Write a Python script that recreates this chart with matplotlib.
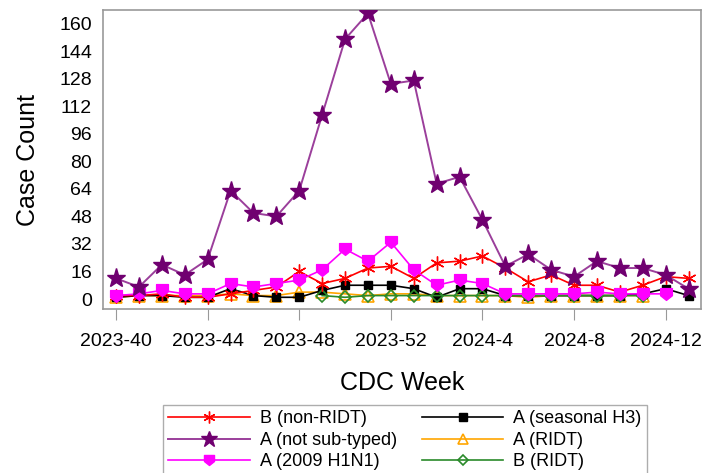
import numpy as np
import matplotlib
matplotlib.use("Agg")
import matplotlib.pyplot as plt
from matplotlib.path import Path

plt.rcParams['font.family'] = ['Liberation Sans', 'DejaVu Sans']

nan = np.nan
weeks = ["2023-40", "2023-41", "2023-42", "2023-43", "2023-44", "2023-45", "2023-46",
         "2023-47", "2023-48", "2023-49", "2023-50", "2023-51", "2023-52",
         "2024-1", "2024-2", "2024-3", "2024-4", "2024-5", "2024-6", "2024-7",
         "2024-8", "2024-9", "2024-10", "2024-11", "2024-12", "2024-13"]

b_non_ridt = [2, 2, 3, 1, 1, 3, 5, 7, 16, 9, 12, 18, 19, 12, 21, 22, 25, 18, 10, 14, 8, 8, 4, 8, 13, 12]
a_not_subtyped = [12, 7, 20, 14, 23, 63, 50, 48, 63, 107, 151, 166, 125, 127, 67, 71, 46, 19, 26, 17, 13, 22, 18, 18, 14, 6]
a_h1n1 = [2, 3, 5, 3, 3, 9, 7, 9, 11, 17, 29, 22, 33, 17, 8, 11, 9, 3, 3, 3, 3, 4, 3, 3, 3, nan]
a_h3 = [1, 2, 2, 1, 1, 6, 2, 1, 1, 5, 8, 8, 8, 6, 1, 6, 6, 2, 2, 2, 2, 2, 2, 3, 6, 2]
a_ridt = [1, 2, 2, 2, 2, 3, 2, 2, 4, 4, 3, 2, 3, 3, 2, 2, 2, 2, 1, 2, 2, 2, 2, 2, nan, nan]
b_ridt = [nan]*9 + [2, 1, 2, 2, 2, 2, 2, 2, 2, 2, 2, 2, 2, 2, 2, nan, nan]

x = np.arange(len(weeks))

# shield-like marker for the H1N1 series
shield = Path([(-1, 1), (1, 1), (1, -0.2), (0, -1), (-1, -0.2), (-1, 1)],
              [Path.MOVETO, Path.LINETO, Path.LINETO, Path.LINETO, Path.LINETO, Path.CLOSEPOLY])

fig = plt.figure(figsize=(7.12, 4.73), dpi=100)
ax = fig.add_axes([0.1447, 0.346, 0.84, 0.633])

l1, = ax.plot(x, b_non_ridt, color='#ff0000', lw=1.2, marker=(6, 2, 0), ms=10, mew=1.0,
              label='B (non-RIDT)', zorder=5)
l2, = ax.plot(x, a_not_subtyped, color='#9b3f9b', lw=1.4, marker='*', ms=14,
              mfc='#700070', mec='#700070', label='A (not sub-typed)', zorder=7)
l3, = ax.plot(x, a_h1n1, color='#ff00ff', lw=1.2, marker=shield, ms=8.5,
              mfc='#ff00ff', mec='#ff00ff', label='A (2009 H1N1)', zorder=6)
l4, = ax.plot(x, a_h3, color='black', lw=1.2, marker='s', ms=6, label='A (seasonal H3)', zorder=3)
l5, = ax.plot(x, a_ridt, color='#ffa500', lw=1.2, marker='^', ms=8.5, mfc='none', mew=1.2,
              label='A (RIDT)', zorder=2)
l6, = ax.plot(x, b_ridt, color='#2a8a2a', lw=1.2, marker='D', ms=6.5, mfc='none', mew=1.2,
              label='B (RIDT)', zorder=4)

ax.set_xlim(-0.57, 25.55)
ax.set_ylim(-6, 168)
ax.set_yticks(np.arange(0, 161, 16))
ax.set_xticks(x[::4])
ax.set_xticklabels(weeks[::4])
ax.tick_params(axis='y', length=0, labelsize=14, pad=8)
ax.tick_params(axis='x', length=8, color='#999999', labelsize=14, pad=9, direction='out')
for s in ax.spines.values():
    s.set_color('#999999')
    s.set_linewidth(1.2)

ax.set_xlabel('CDC Week', fontsize=18, labelpad=15)
ax.set_ylabel('Case Count', fontsize=18, labelpad=14)

leg = fig.legend(handles=[l1, l2, l3, l4, l5, l6], ncol=2, loc='upper left',
                 bbox_to_anchor=(163/712, 1 - 405/473), fontsize=13, frameon=True,
                 fancybox=False, edgecolor='#999999', handlelength=4.5, handletextpad=0.55,
                 columnspacing=1.4, labelspacing=0.25, borderpad=0.3, borderaxespad=0,
                 markerscale=0.85)
leg.get_frame().set_linewidth(1.0)

fig.savefig('out.png', dpi=100)
